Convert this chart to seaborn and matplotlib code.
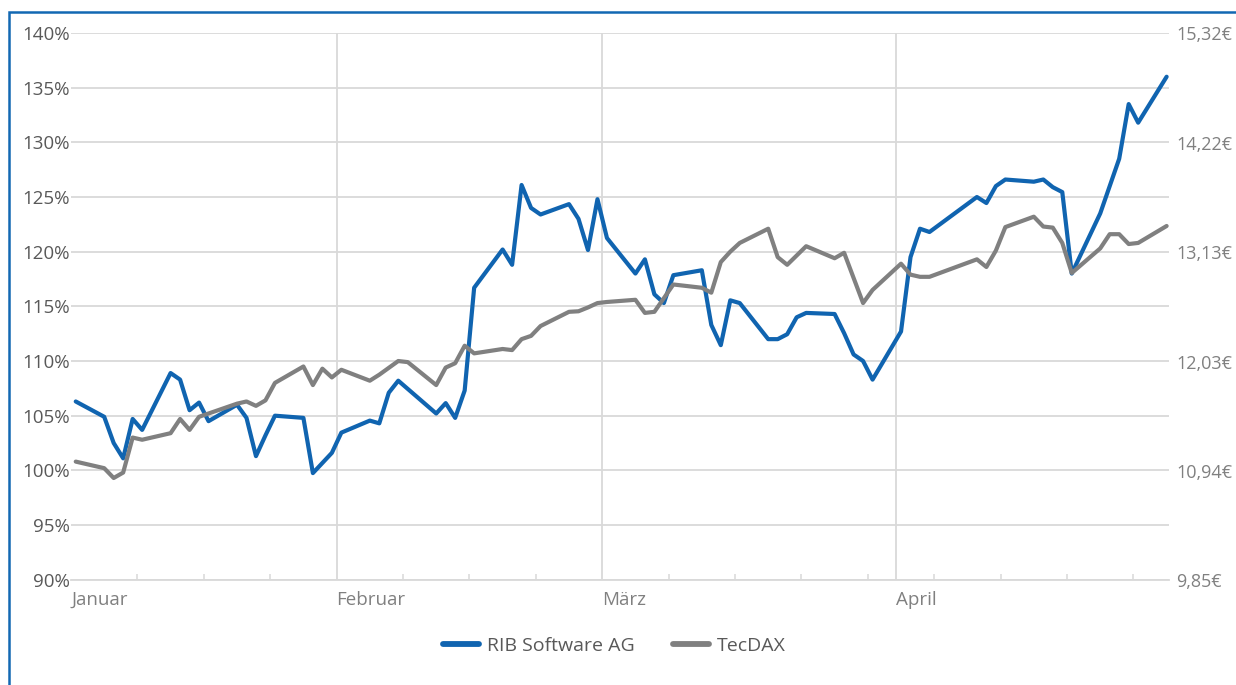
import numpy as np
import pandas as pd
import matplotlib
matplotlib.use("Agg")
import matplotlib.pyplot as plt
from matplotlib.patches import Rectangle
import seaborn as sns

YEAR = 2019
SERIES = ["RIB Software AG", "TecDAX"]
COLORS = {"RIB Software AG": "#1064b0", "TecDAX": "#808080"}

rib_dates = ["01-04", "01-07", "01-08", "01-09", "01-10", "01-11", "01-14", "01-15", "01-16", "01-17",
             "01-18", "01-21", "01-22", "01-23", "01-24", "01-25", "01-28", "01-29", "01-31", "02-01",
             "02-04", "02-05", "02-06", "02-07", "02-11", "02-12", "02-13", "02-14", "02-15", "02-18",
             "02-19", "02-20", "02-21", "02-22", "02-25", "02-26", "02-27", "02-28", "03-01", "03-04",
             "03-05", "03-06", "03-07", "03-08", "03-11", "03-12", "03-13", "03-14", "03-15", "03-18",
             "03-19", "03-20", "03-21", "03-22", "03-25", "03-26", "03-27", "03-28", "03-29", "04-01",
             "04-02", "04-03", "04-04", "04-09", "04-10", "04-11", "04-12", "04-15", "04-16", "04-17",
             "04-18", "04-19", "04-22", "04-24", "04-25", "04-26", "04-29"]
rib_values = [106.3, 104.9, 102.5, 101.1, 104.7, 103.7, 108.9, 108.3, 105.5, 106.2,
              104.5, 106.0, 104.8, 101.3, 103.2, 105.0, 104.8, 99.75, 101.6, 103.45,
              104.55, 104.3, 107.1, 108.2, 105.2, 106.15, 104.8, 107.3, 116.7, 120.2,
              118.8, 126.1, 124.0, 123.4, 124.35, 123.0, 120.15, 124.8, 121.25, 118.0,
              119.3, 116.1, 115.3, 117.85, 118.3, 113.3, 111.45, 115.55, 115.3, 112.0,
              112.0, 112.45, 114.0, 114.4, 114.3, 112.55, 110.6, 110.0, 108.3, 112.7,
              119.5, 122.1, 121.8, 125.0, 124.45, 126.0, 126.6, 126.4, 126.6, 125.9,
              125.45, 118.0, 123.5, 128.5, 133.5, 131.8, 136.0]

tec_dates = ["01-04", "01-07", "01-08", "01-09", "01-10", "01-11", "01-14", "01-15", "01-16", "01-17",
             "01-21", "01-22", "01-23", "01-24", "01-25", "01-28", "01-29", "01-30", "01-31", "02-01",
             "02-04", "02-05", "02-07", "02-08", "02-11", "02-12", "02-13", "02-14", "02-15", "02-18",
             "02-19", "02-20", "02-21", "02-22", "02-25", "02-26", "02-27", "02-28", "03-01", "03-04",
             "03-05", "03-06", "03-08", "03-11", "03-12", "03-13", "03-14", "03-15", "03-18", "03-19",
             "03-20", "03-22", "03-25", "03-26", "03-28", "03-29", "04-01", "04-02", "04-03", "04-04",
             "04-09", "04-10", "04-11", "04-12", "04-15", "04-16", "04-17", "04-18", "04-19", "04-22",
             "04-23", "04-24", "04-25", "04-26", "04-29"]
tec_values = [100.8, 100.2, 99.3, 99.8, 103.0, 102.8, 103.4, 104.7, 103.7, 104.9,
              106.1, 106.3, 105.9, 106.4, 108.0, 109.5, 107.8, 109.3, 108.5, 109.2,
              108.2, 108.75, 110.0, 109.9, 107.8, 109.4, 109.8, 111.4, 110.7, 111.1,
              111.0, 112.0, 112.3, 113.2, 114.5, 114.55, 114.9, 115.3, 115.4, 115.6,
              114.4, 114.5, 117.0, 116.7, 116.25, 119.05, 120.0, 120.8, 122.1, 119.5,
              118.8, 120.5, 119.4, 119.9, 115.3, 116.5, 118.9, 117.9, 117.7, 117.7,
              119.3, 118.6, 120.1, 122.25, 123.2, 122.3, 122.2, 120.8, 118.05, 120.3,
              121.6, 121.6, 120.7, 120.8, 122.35]

month_labels = ["Januar", "Februar", "März", "April"]
pct_ticks = [90, 95, 100, 105, 110, 115, 120, 125, 130, 135, 140]
pct_labels = ["90%", "95%", "100%", "105%", "110%", "115%", "120%", "125%", "130%", "135%", "140%"]
eur_ticks = [9.85, 10.94, 12.03, 13.13, 14.22, 15.32]
eur_labels = ["9,85€", "10,94€", "12,03€", "13,13€", "14,22€", "15,32€"]

df = pd.concat([
    pd.DataFrame({"Datum": pd.to_datetime([f"{YEAR}-{d}" for d in rib_dates]),
                  "Wert": rib_values, "Serie": SERIES[0]}),
    pd.DataFrame({"Datum": pd.to_datetime([f"{YEAR}-{d}" for d in tec_dates]),
                  "Wert": tec_values, "Serie": SERIES[1]}),
], ignore_index=True)

sns.set_theme(style="white")
plt.rcParams["font.family"] = ["Open Sans", "DejaVu Sans"]

W, H = 1236, 685
fig = plt.figure(figsize=(W / 100, H / 100), dpi=100)
ax = fig.add_axes([71 / W, 1 - 579.7 / H, (1169 - 71) / W, (579.7 - 33) / H])

sns.lineplot(data=df, x="Datum", y="Wert", hue="Serie", hue_order=SERIES, palette=COLORS,
             linewidth=3.0, estimator=None, sort=True, legend=False, ax=ax)
for ln in ax.lines:
    ln.set_solid_joinstyle("round")
    ln.set_solid_capstyle("round")

half_day = pd.Timedelta(hours=12)
x_left = df["Datum"].min() - half_day
x_right = df["Datum"].max() + pd.Timedelta(hours=6)
ax.set_xlim(x_left, x_right)
ax.set_ylim(pct_ticks[0], pct_ticks[-1])

month_pos = [x_left] + [pd.Timestamp(f"{YEAR}-{m:02d}-01") - half_day for m in (2, 3, 4)]
ax.set_xticks(month_pos)
ax.set_xticklabels(month_labels, ha="left")
week_pos = pd.date_range(x_left + pd.Timedelta(days=7), x_right, freq="7D")
ax.set_xticks(list(week_pos), minor=True)

ax.set_yticks(pct_ticks)
ax.set_yticklabels(pct_labels)
ax.set_xlabel("")
ax.set_ylabel("")

grid_c = "#d9d9d9"
ax.grid(axis="y", color=grid_c, linewidth=1.3)
ax.grid(axis="x", which="major", color=grid_c, linewidth=1.3)
ax.xaxis.get_major_ticks()[0].gridline.set_visible(False)
ax.set_axisbelow(True)

for s in ("top", "left", "right"):
    ax.spines[s].set_visible(False)
ax.spines["bottom"].set_color(grid_c)
ax.spines["bottom"].set_linewidth(1.3)

ax.tick_params(axis="x", which="major", length=0, pad=8, labelsize=13.5, labelcolor="#808080")
ax.tick_params(axis="x", which="minor", direction="in", length=4, width=1.1, color=grid_c, bottom=True)
ax.tick_params(axis="y", length=0, pad=1, labelsize=13.5, labelcolor="#595959")

ax2 = ax.twinx()
ax2.set_ylim(eur_ticks[0], eur_ticks[-1])
ax2.set_yticks(eur_ticks)
ax2.set_yticklabels(eur_labels)
ax2.tick_params(axis="y", length=0, pad=5, labelsize=13, labelcolor="#808080")
ax2.grid(False)
for s in ax2.spines.values():
    s.set_visible(False)

handles = ax.lines[:2]
leg = fig.legend(handles, SERIES, loc="center", bbox_to_anchor=(0.497, 1 - 646 / H), ncol=2,
                 frameon=False, fontsize=14, handlelength=1.85, handletextpad=0.4,
                 columnspacing=2.0, labelcolor="#595959")
for ln in leg.get_lines():
    ln.set_linewidth(4.2)
    ln.set_solid_capstyle("round")

fig.patches.append(Rectangle((8.5 / W, -0.05), 1.2, 1.05 - 12 / H, transform=fig.transFigure,
                             fill=False, edgecolor="#1268b3", linewidth=1.8))

fig.savefig("out.png", dpi=100)
